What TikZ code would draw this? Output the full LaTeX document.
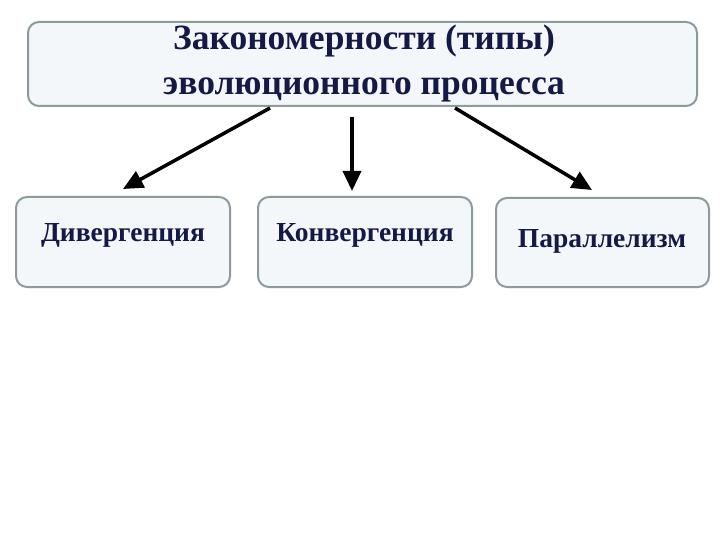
\documentclass[tikz,border=0pt]{standalone}
\usepackage{fontspec}
\setmainfont{Liberation Serif}
\usetikzlibrary{arrows.meta}
\definecolor{boxfill}{HTML}{F4F7FA}
\definecolor{boxline}{HTML}{8E9A9C}
\definecolor{navy}{HTML}{141A45}
\tikzset{
 box/.style={draw=boxline, line width=2pt, fill=boxfill, rounded corners=11pt, inner sep=0pt},
 lbl/.style={text=navy, font=\bfseries\fontsize{27.5}{30}\selectfont, anchor=center},
 arr/.style={line width=3.5pt, -{Triangle[length=20pt,width=18pt]}}
}
\begin{document}
\begin{tikzpicture}[x=1pt,y=-1pt]
\useasboundingbox[fill=white] (0,0) rectangle (720,540);
\draw[box] (28,22) rectangle (697,106);
\node[text=navy, font=\bfseries\fontsize{35.5}{45}\selectfont, align=center] (top) at (364,63) {Закономерности (типы)\\эволюционного процесса};
\draw[box] (16,197) rectangle (230,287);
\draw[box] (258,197) rectangle (472,287);
\draw[box] (496,198) rectangle (709,287);
\node[lbl] (d) at (123,235) {Дивергенция};
\node[lbl] (k) at (365,235) {Конвергенция};
\node[lbl] (p) at (602,241) {Параллелизм};
\coordinate (a1) at (270,108); \coordinate (b1) at (123,189);
\coordinate (a2) at (352,117); \coordinate (b2) at (352,191);
\coordinate (a3) at (455,108); \coordinate (b3) at (592,190);
\draw[arr] (a1) -- (b1);
\draw[arr] (a2) -- (b2);
\draw[arr] (a3) -- (b3);
\end{tikzpicture}
\end{document}
